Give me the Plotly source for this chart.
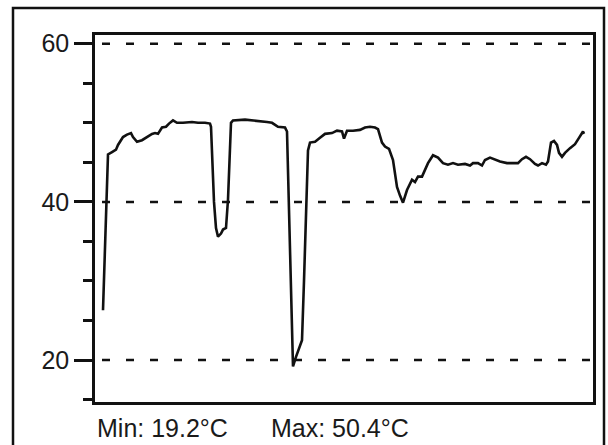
import plotly.graph_objects as go

# time axis (arbitrary sample units) and temperature readings (°C)
time = [8, 13, 17, 21, 23, 28, 32, 36, 38, 42, 47, 52, 57, 60, 63, 67, 71, 74, 78, 82,
        88, 97, 103, 110, 115, 116, 119, 121, 123, 126, 128, 131, 133, 136, 138,
        150, 160, 172, 177, 183, 190, 192, 194, 197, 198, 201, 204, 207, 209, 211,
        213, 215, 220, 225, 230, 237, 242, 247, 249, 252, 258, 265, 270, 275, 280,
        283, 287, 290, 294, 298, 302, 305, 308, 312, 317, 320, 323, 327, 330, 333,
        338, 343, 348, 353, 358, 363, 370, 375, 378, 383, 387, 390, 395, 400, 405,
        412, 418, 423, 427, 431, 435, 440, 443, 447, 451, 453, 456, 459, 462, 464,
        467, 470, 475, 480, 484, 488, 489]
temp = [26.3, 46.0, 46.3, 46.6, 47.2, 48.2, 48.5, 48.7, 48.2, 47.6, 47.8, 48.2, 48.6, 48.7,
        48.6, 49.4, 49.5, 49.9, 50.3, 50.0, 50.0, 50.1, 50.0, 50.0, 49.9, 49.5, 40.0,
        36.7, 35.6, 36.0, 36.5, 36.7, 40.3, 50.0, 50.3,
        50.4, 50.3, 50.1, 50.0, 49.5, 49.4, 48.9, 39.0, 22.2, 19.2, 20.4, 21.6, 22.5,
        30.0, 40.0, 46.5, 47.5, 47.6, 48.1, 48.6, 48.7, 49.0, 48.9, 48.0, 49.0, 49.0,
        49.1, 49.4, 49.5, 49.4, 49.2, 47.5, 47.0, 46.7, 45.3, 41.9, 40.8, 39.9, 41.5,
        42.8, 42.5, 43.2, 43.2, 44.1, 44.9, 45.9, 45.6, 44.9, 44.7, 44.9, 44.7, 44.8,
        44.6, 44.9, 44.9, 44.6, 45.3, 45.6, 45.3, 45.1, 44.9, 44.9, 44.9, 45.4, 45.7,
        45.4, 44.8, 44.6, 44.9, 44.7, 45.1, 47.5, 47.7, 47.2, 46.2, 45.7, 46.2, 46.8,
        47.3, 48.1, 48.9, 48.6]

grid_values = [20, 40, 60]
major_ticks = [20, 40, 60]
major_labels = ["20", "40", "60"]

W, H = 608, 445
L, R, T, B = 95, 593, 35, 402
pw, ph = R - L, B - T

fig = go.Figure()
fig.add_trace(go.Scatter(x=time, y=temp, mode="lines",
                         line=dict(color="#111111", width=2.6), showlegend=False,
                         hoverinfo="skip"))

shapes = []
for g in grid_values:
    shapes.append(dict(type="line", xref="paper", yref="y", x0=7 / pw, x1=1, y0=g, y1=g,
                       line=dict(color="#111111", width=2.5, dash="8px,16px"), layer="below"))
# outer frame
shapes.append(dict(type="rect", xref="paper", yref="paper",
                   x0=(13 - L) / pw, x1=(604 - L) / pw,
                   y0=(B - 470) / ph, y1=(B - 8) / ph,
                   line=dict(color="#111111", width=2.5), fillcolor="rgba(0,0,0,0)"))

font = "Liberation Sans, Arial, Helvetica, sans-serif"
annotations = [
    dict(text=f"Min: {min(temp):.1f}°C", xref="paper", yref="paper",
         x=(95 - L) / pw, y=(B - 428) / ph, xanchor="left", yanchor="middle",
         showarrow=False, font=dict(family=font, size=25, color="#1a1a1a")),
    dict(text=f"Max: {max(temp):.1f}°C", xref="paper", yref="paper",
         x=(269 - L) / pw, y=(B - 428) / ph, xanchor="left", yanchor="middle",
         showarrow=False, font=dict(family=font, size=25, color="#1a1a1a")),
]

fig.update_layout(
    width=W, height=H,
    margin=dict(l=L, r=W - R, t=T, b=H - B, pad=0),
    paper_bgcolor="white", plot_bgcolor="white",
    shapes=shapes, annotations=annotations,
    xaxis=dict(range=[0, pw], showgrid=False, zeroline=False, showticklabels=False,
               ticks="", showline=True, linecolor="#111111", linewidth=2.5, mirror=True),
    yaxis=dict(range=[14.7, 61.1], showgrid=False, zeroline=False,
               tickvals=major_ticks, ticktext=major_labels, ticks="outside", ticklen=18,
               tickwidth=2.5, tickcolor="#111111",
               minor=dict(dtick=5, tick0=0, ticks="outside", ticklen=9, tickwidth=2.5,
                          tickcolor="#111111", showgrid=False),
               showline=True, linecolor="#111111", linewidth=2.5, mirror=True,
               tickfont=dict(family=font, size=25, color="#1a1a1a")),
)

fig.write_html("out.html", config={"displayModeBar": False},
               post_script="document.body.style.margin='0';")
